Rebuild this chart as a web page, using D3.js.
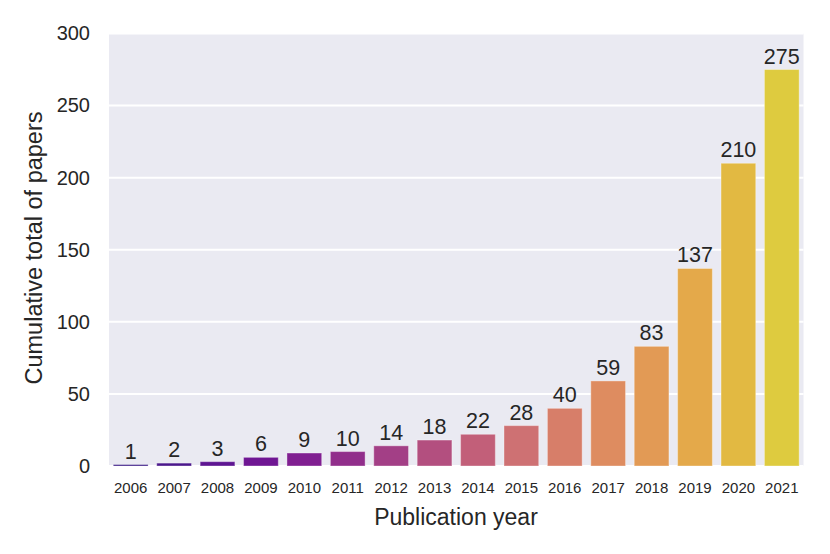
<!DOCTYPE html>
<html>
<head>
<meta charset="utf-8">
<script src="https://cdn.jsdelivr.net/npm/d3@7"></script>
<style>
    body { margin: 0; background: white; }
    text { font-family: 'Liberation Sans', Arial, sans-serif; fill: #262626; }
</style>
</head>
<body>
<script>
// cumulative papers per year
var years = ['2006', '2007', '2008', '2009', '2010', '2011', '2012', '2013',
    '2014', '2015', '2016', '2017', '2018', '2019', '2020', '2021'];
var totals = [1, 2, 3, 6, 9, 10, 14, 18, 22, 28, 40, 59, 83, 137, 210, 275];
var yTicks = [0, 50, 100, 150, 200, 250, 300];

var width = 830, height = 554;
var margin = {left: 109, right: 26.5, top: 33.5, bottom: 88};

var svg = d3.select('body').append('svg')
    .attr('width', width)
    .attr('height', height);

var x = d3.scaleBand()
    .domain(years)
    .range([margin.left, width - margin.right])
    .paddingInner(0.2)
    .paddingOuter(0.1);

var y = d3.scaleLinear()
    .domain([0, 300])
    .range([height - margin.bottom, margin.top]);

// seaborn-like palette: plasma sampled, then desaturated to 0.75
function barColor(i) {
    var c = d3.hsl(d3.interpolatePlasma((i + 1) / (years.length + 1)));
    c.s = c.s * 0.75;
    return c.formatHex();
}

svg.append('rect')
    .attr('x', margin.left)
    .attr('y', margin.top)
    .attr('width', width - margin.right - margin.left)
    .attr('height', height - margin.bottom - margin.top)
    .style('fill', '#eaeaf2');

svg.append('g')
    .selectAll('line')
    .data(yTicks)
    .join('line')
    .attr('x1', margin.left)
    .attr('x2', width - margin.right)
    .attr('y1', function(d) { return y(d); })
    .attr('y2', function(d) { return y(d); })
    .style('stroke', 'white')
    .style('stroke-width', 2);

svg.append('g')
    .selectAll('rect')
    .data(totals)
    .join('rect')
    .attr('x', function(d, i) { return x(years[i]); })
    .attr('y', function(d) { return y(d); })
    .attr('width', x.bandwidth())
    .attr('height', function(d) { return y(0) - y(d); })
    .style('fill', function(d, i) { return barColor(i); })
    .style('stroke', 'white')
    .style('stroke-opacity', 0.35)
    .style('stroke-width', 1);

svg.append('g')
    .selectAll('text')
    .data(totals)
    .join('text')
    .attr('x', function(d, i) { return x(years[i]) + x.bandwidth() / 2; })
    .attr('y', function(d) { return y(d) - 6; })
    .attr('text-anchor', 'middle')
    .style('font-size', '21.5px')
    .text(function(d) { return d; });

// axes without domain lines or tick marks
var yAxis = svg.append('g')
    .attr('transform', 'translate(' + margin.left + ',0)')
    .call(d3.axisLeft(y).tickValues(yTicks).tickSize(0).tickPadding(19));
yAxis.select('.domain').remove();
yAxis.selectAll('text')
    .style('font-size', '20px')
    .style('fill', '#262626');

var xAxis = svg.append('g')
    .attr('transform', 'translate(0,' + y(0) + ')')
    .call(d3.axisBottom(x).tickSize(0).tickPadding(16));
xAxis.select('.domain').remove();
xAxis.selectAll('text')
    .style('font-size', '15px')
    .style('fill', '#262626');

svg.append('text')
    .attr('x', 456)
    .attr('y', 525)
    .attr('text-anchor', 'middle')
    .style('font-size', '23px')
    .text('Publication year');

svg.append('text')
    .attr('transform', 'translate(42,248) rotate(-90)')
    .attr('text-anchor', 'middle')
    .style('font-size', '23.5px')
    .text('Cumulative total of papers');
</script>
</body>
</html>
